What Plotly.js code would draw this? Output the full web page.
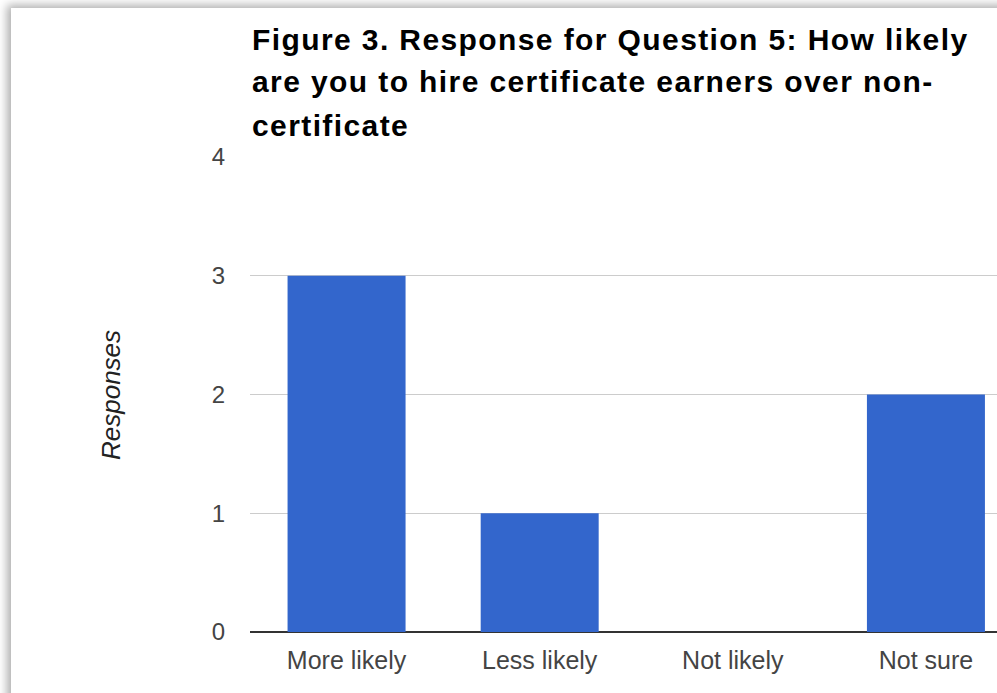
<!DOCTYPE html>
<html>
<head>
<meta charset="utf-8">
<script src="https://cdn.plot.ly/plotly-3.0.1.min.js"></script>
<style>
  html, body { margin: 0; padding: 0; background: #ffffff; overflow: hidden; }
  #card {
    position: absolute; left: 11px; top: 8px; width: 1100px; height: 800px;
    background: #ffffff;
    box-shadow: -4px -3px 9px rgba(0,0,0,0.32);
  }
  #chart { position: absolute; left: 0; top: 0; width: 997px; height: 693px; }
  /* the heading is set a little loose */
  #chart .annotation.heading .annotation-text { letter-spacing: 1.4px; }
</style>
</head>
<body>
<div id="card"></div>
<div id="chart"></div>
<script>
// Survey answers for question 5
const categories = ["More likely", "Less likely", "Not likely", "Not sure"];
const responses = [3, 1, 0, 2];
const yTicks = [0, 1, 2, 3, 4];
const titleLines = [
  "Figure 3. Response for Question 5: How likely",
  "are you to hire certificate earners over non-",
  "certificate"
];

const W = 997, H = 693;
const margin = { l: 250, r: 0, t: 157, b: 61 };
const plotH = H - margin.t - margin.b;
// convert page pixels to paper coordinates
const py = p => (H - margin.b - p) / plotH;
const px = p => (p - margin.l) / (W - margin.l - margin.r);

const titleY = [39, 82, 125];
const annotations = titleLines.map((t, i) => ({
  text: t, xref: "paper", yref: "paper", x: 0, y: py(titleY[i]),
  xanchor: "left", yanchor: "middle", align: "left", showarrow: false,
  font: { family: "Liberation Sans, Arial, sans-serif", size: 30, color: "#000000", weight: 700 }
}));
annotations.push({
  text: "Responses", xref: "paper", yref: "paper", x: px(111), y: py(395),
  xanchor: "center", yanchor: "middle", showarrow: false, textangle: -90,
  font: { family: "Liberation Sans, Arial, sans-serif", size: 26, color: "#222222", style: "italic" }
});

const trace = {
  type: "bar", x: categories, y: responses,
  marker: { color: "#3366cc" }, hoverinfo: "skip"
};

const layout = {
  width: W, height: H, margin: margin,
  paper_bgcolor: "rgba(0,0,0,0)", plot_bgcolor: "rgba(0,0,0,0)",
  showlegend: false, bargap: 0.389,
  font: { family: "Liberation Sans, Arial, sans-serif" },
  xaxis: {
    type: "category", range: [-0.5, 3.368], fixedrange: true,
    showgrid: false, zeroline: false, showline: false, ticks: "",
    tickfont: { size: 25, color: "#444444" }, ticklabelstandoff: 11
  },
  yaxis: {
    range: [0, 4], tickvals: yTicks, fixedrange: true,
    showgrid: true, gridcolor: "#cccccc", gridwidth: 1,
    zeroline: true, zerolinecolor: "#333333", zerolinewidth: 2,
    showline: false, ticks: "",
    tickfont: { size: 24, color: "#444444" }, ticklabelstandoff: 24
  },
  annotations: annotations
};

Plotly.newPlot("chart", [trace], layout, { staticPlot: true }).then(gd => {
  // tag the heading lines so the stylesheet can space them
  gd.querySelectorAll(".annotation").forEach((el, i) => {
    if (i < titleLines.length) el.classList.add("heading");
  });
});
</script>
</body>
</html>
